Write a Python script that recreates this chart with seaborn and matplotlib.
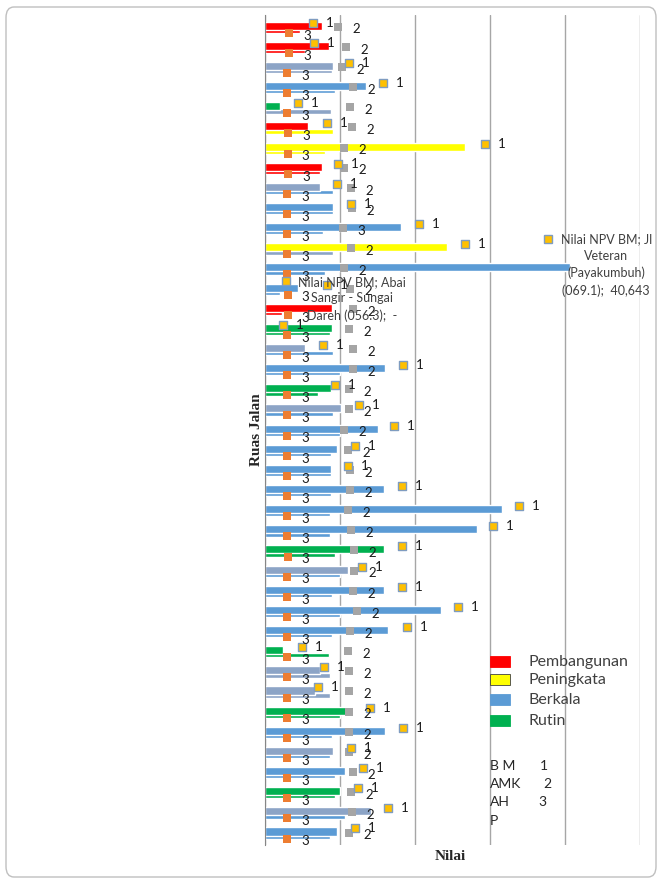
import numpy as np
import pandas as pd
import seaborn as sns
import matplotlib.pyplot as plt
from matplotlib.patches import FancyBboxPatch, Rectangle

# 41 ruas jalan, top to bottom
rows = np.arange(1, 42)

# jenis penanganan per ruas (P=Pembangunan, K=Peningkatan, B=Berkala, G=Berkala (grey tone), R=Rutin)
top_kind = ['P', 'P', 'G', 'B', 'R', 'P', 'K', 'P', 'G', 'B',
            'B', 'K', 'B', 'B', 'P', 'R', 'G', 'B', 'R', 'G',
            'B', 'B', 'B', 'B', 'B', 'B', 'R', 'G', 'B', 'B',
            'B', 'R', 'G', 'G', 'R', 'B', 'G', 'B', 'R', 'G', 'B']
low_kind = ['P', 'P', 'G', 'B', 'G', 'K', 'K', 'P', 'B', 'B',
            'B', 'G', 'B', 'B', 'P', 'R', 'B', 'B', 'R', 'B',
            'B', 'B', 'B', 'B', 'B', 'B', 'R', 'B', 'B', 'B',
            'B', 'R', 'G', 'G', 'R', 'B', 'B', 'B', 'R', 'B', 'B']

top_len = [7.6, 8.5, 9.1, 13.5, 2.0, 5.7, 26.7, 7.6, 7.3, 9.1,
           18.1, 24.3, 40.643, 4.4, 8.9, 8.9, 5.3, 16.0, 8.8, 10.1,
           15.1, 9.6, 8.8, 15.9, 31.6, 28.3, 15.9, 11.1, 15.9, 23.5,
           16.4, 2.4, 7.3, 6.7, 11.6, 16.0, 9.1, 10.7, 10.0, 14.1, 9.6]
low_len = [4.7, 5.3, 8.9, 9.3, 8.8, 9.1, 8.0, 7.3, 9.1, 9.1,
           7.7, 9.1, 8.0, 2.0, 2.3, 8.7, 9.1, 10.0, 7.1, 9.1,
           10.0, 8.8, 8.8, 8.8, 8.7, 8.7, 9.3, 10.0, 8.9, 10.0,
           8.9, 8.5, 8.7, 8.7, 10.0, 8.9, 8.7, 9.3, 9.3, 10.7, 8.7]

# marker values: BM (1), AMK (2), AHP (3)
bm = [6.4, 6.5, 11.2, 15.7, 4.4, 8.3, 29.3, 9.7, 9.6, 11.5,
      20.5, 26.7, np.nan, 8.3, np.nan, 2.4, 7.7, 18.4, 9.3, 12.5,
      17.2, 12.0, 11.1, 18.3, 33.9, 30.4, 18.3, 12.9, 18.3, 25.7,
      18.9, 4.9, 7.9, 7.1, 14.0, 18.4, 11.5, 13.1, 12.4, 16.4, 12.0]
amk = [9.7, 10.8, 10.3, 11.7, 11.3, 11.6, 10.5, 10.5, 11.5, 11.6,
       10.4, 11.5, 10.5, 11.3, 11.7, 11.2, 11.7, 11.7, 11.2, 11.2,
       10.5, 11.1, 11.3, 11.3, 11.1, 11.5, 11.9, 11.9, 11.7, 12.3,
       11.3, 11.1, 11.2, 11.2, 11.2, 11.2, 11.2, 11.7, 11.5, 11.6, 11.2]
ahp = [3.2, 3.2, 2.9, 2.9, 2.9, 3.1, 3.0, 3.1, 2.9, 2.9,
       2.9, 2.9, 2.9, 3.0, 3.0, 2.9, 2.9, 2.9, 2.9, 2.9,
       2.9, 2.9, 2.9, 2.9, 2.9, 2.9, 3.0, 2.9, 2.9, 2.9,
       2.9, 2.9, 2.9, 2.9, 2.9, 2.9, 2.9, 2.9, 2.9, 2.9, 2.9]
amk_tag = ['2'] * 41
amk_tag[10] = '3'

colors = {'P': '#FF0000', 'K': '#FFFF00', 'B': '#5B9BD5', 'G': '#8CA4C6', 'R': '#00B050'}

df = pd.DataFrame(dict(row=rows, top=top_len, low=low_len, top_kind=top_kind,
                       low_kind=low_kind, bm=bm, amk=amk, ahp=ahp))
df['y_top'] = df['row'] - 0.07
df['y_low'] = df['row'] + 0.18
df['y_bm'] = df['row'] - 0.22
df['y_amk'] = df['row'] - 0.02
df['y_ahp'] = df['row'] + 0.28

sns.set_style('white')
plt.rcParams['font.family'] = ['Lato', 'DejaVu Sans']

fig = plt.figure(figsize=(6.62, 8.83), dpi=100)
ax = fig.add_axes([265 / 662, 1 - 845 / 883, 375 / 662, 830 / 883])

sns.barplot(data=df, x='low', y='y_low', hue='low_kind', palette=colors, orient='h',
            native_scale=True, width=0.22, dodge=False, legend=False, errorbar=None,
            saturation=1, ax=ax)
sns.barplot(data=df, x='top', y='y_top', hue='top_kind', palette=colors, orient='h',
            native_scale=True, width=0.4, dodge=False, legend=False, errorbar=None,
            saturation=1, ax=ax)

sns.scatterplot(data=df, x='ahp', y='y_ahp', marker='s', s=28, color='#ED7D31',
                linewidth=0, ax=ax, zorder=5)
sns.scatterplot(data=df, x='amk', y='y_amk', marker='s', s=28, color='#A5A5A5',
                linewidth=0, ax=ax, zorder=5)
sns.scatterplot(data=df, x='bm', y='y_bm', marker='s', s=36, color='#FFC000',
                edgecolor='#7F9CC0', linewidth=1, ax=ax, zorder=6)

lab = dict(fontsize=9.5, color='#1a1a1a', ha='center', va='center',
           textcoords='offset points', zorder=7)
for _, r in df.iterrows():
    ax.annotate('3', (r['ahp'], r['y_ahp']), xytext=(13, -2), **lab)
    ax.annotate(amk_tag[int(r['row']) - 1], (r['amk'], r['y_amk']), xytext=(13, -2), **lab)
    if not np.isnan(r['bm']):
        ax.annotate('1', (r['bm'], r['y_bm']), xytext=(12, 0), **lab)

ax.set_xlim(0, 50)
ax.set_ylim(41.6, 0.4)
ax.set_xticks([0, 10, 20, 30, 40, 50])
ax.set_yticks([])
ax.tick_params(length=0, labelbottom=False, labelleft=False)
ax.grid(axis='x', color='#A6A6A6', lw=1)
ax.grid(axis='y', visible=False)
ax.set_axisbelow(True)
for s in ['top', 'right', 'bottom']:
    ax.spines[s].set_visible(False)
ax.spines['left'].set_color('#868686')
ax.set_xlabel('')
ax.set_ylabel('')

# data labels
ax.add_patch(Rectangle((37.2, 11.3), 1.0, 0.4, facecolor='#FFC000', edgecolor='#7F9CC0', lw=1, zorder=8))
ax.text(45.5, 11.25, 'Nilai NPV BM; Jl\nVeteran\n(Payakumbuh)\n(069.1);  40,643', fontsize=9,
        color='#404040', ha='center', va='top', linespacing=1.45, zorder=8)
ax.add_patch(Rectangle((2.3, 13.4), 1.0, 0.4, facecolor='#FFC000', edgecolor='#7F9CC0', lw=1, zorder=8))
ax.text(11.6, 13.35, 'Nilai NPV BM; Abai\nSangir - Sungai\nDareh (056.3);  -', fontsize=9,
        color='#404040', ha='center', va='top', linespacing=1.45, zorder=8)

# legend
leg_items = [('Pembangunan', '#FF0000', 662), ('Peningkata', '#FFFF00', 680),
             ('Berkala', '#5B9BD5', 700), ('Rutin', '#00B050', 721)]
for name, c, ypx in leg_items:
    fig.patches.append(Rectangle((490 / 662, 1 - (ypx + 5) / 883), 20 / 662, 11 / 883,
                                 transform=fig.transFigure, facecolor=c,
                                 edgecolor='#404040' if c == '#FFFF00' else c, lw=0.6))
    fig.text(528 / 662, 1 - ypx / 883, name, fontsize=11.5, color='#404040', va='center')

for txt, num, ypx, nx in [('B M', '1', 766, 540), ('AMK', '2', 784, 543),
                          ('AH', '3', 802, 538), ('P', '', 821, 540)]:
    fig.text(490 / 662, 1 - ypx / 883, txt, fontsize=10, color='#262626', va='center')
    fig.text(nx / 662, 1 - ypx / 883, num, fontsize=10, color='#262626', va='center')

fig.text(257 / 662, 1 - 430 / 883, 'Ruas Jalan', rotation=90, fontsize=11, fontweight='bold',
         family='Liberation Serif', ha='center', va='center')
fig.text(450 / 662, 1 - 857 / 883, 'Nilai', fontsize=11, fontweight='bold',
         family='Liberation Serif', ha='center', va='center')

fig.patches.append(FancyBboxPatch((6 / 662, 6 / 883), 650 / 662, 870 / 883,
                                  boxstyle='round,pad=0,rounding_size=0.012',
                                  transform=fig.transFigure, facecolor='none',
                                  edgecolor='#BFBFBF', lw=1))

fig.savefig('out.png', dpi=100)
